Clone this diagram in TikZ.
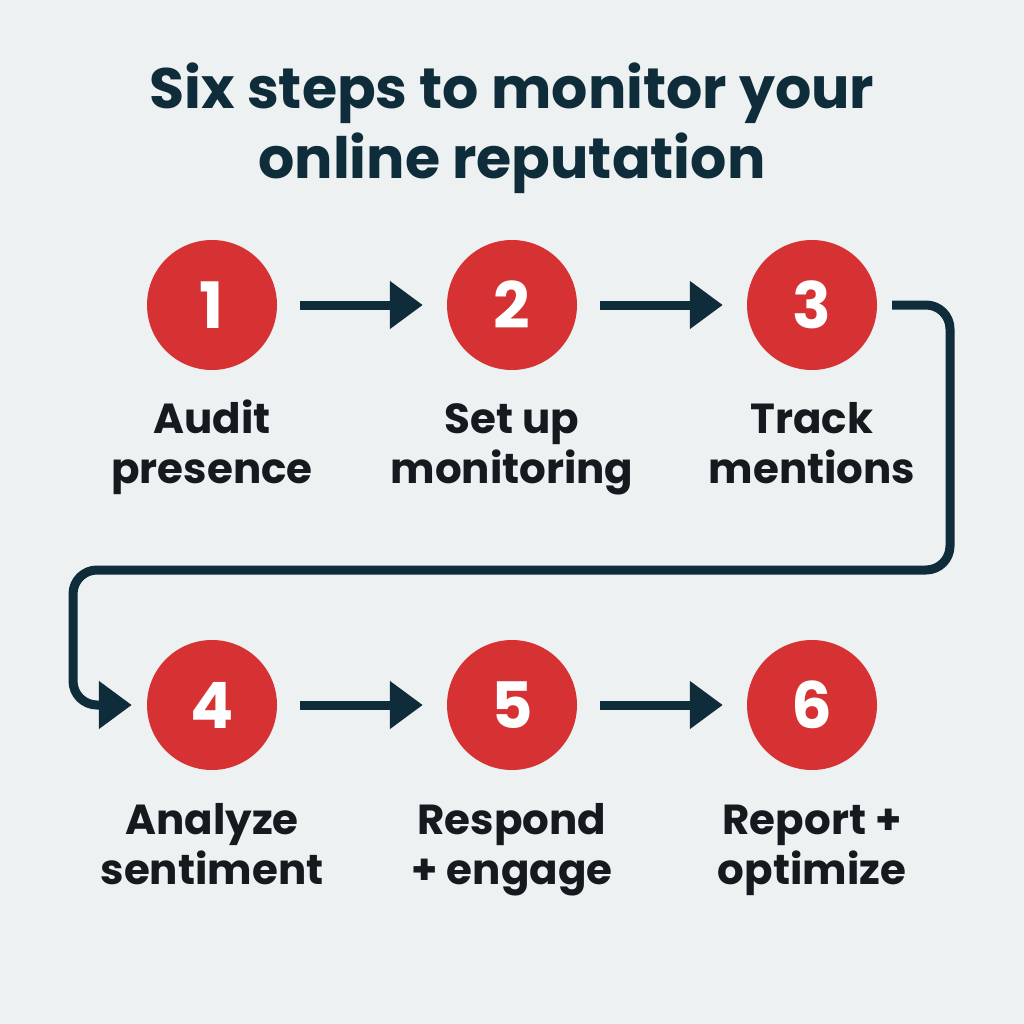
\documentclass[tikz,border=0pt]{standalone}
\usepackage{fontspec}
\setmainfont{Poppins}[BoldFont={* Bold}]
\usepackage{xcolor}
\definecolor{pagebg}{HTML}{EDF1F2}
\definecolor{navy}{HTML}{0E2C3A}
\definecolor{stepred}{HTML}{D63233}
\definecolor{ink}{HTML}{151A1E}
\usepackage{tikz}
\usetikzlibrary{arrows.meta}

\begin{document}
\begin{tikzpicture}[
  x=1pt, y=-1pt,
  stepdot/.style={circle, fill=stepred, draw=none, minimum size=130pt, inner sep=0pt,
                  text=white, font=\bfseries\fontsize{64}{64}\selectfont},
  steplabel/.style={align=center, text=ink, inner sep=0pt, anchor=base,
                    font=\bfseries\fontsize{42}{50}\selectfont},
  flow/.style={-{Triangle[length=33pt, width=46pt]}, navy, line width=9pt},
  loop/.style={flow, rounded corners=24pt}
]
  \fill[pagebg] (0,0) rectangle (1024,1024);
  \useasboundingbox (0,0) rectangle (1024,1024);

  \node[text=navy, align=center, inner sep=0pt, font=\bfseries\fontsize{57}{70}\selectfont]
       (title) at (512,128) {Six steps to monitor your\\online reputation};

  \node[stepdot] (s1) at (212,305) {1};
  \node[stepdot] (s2) at (512,305) {2};
  \node[stepdot] (s3) at (812,305) {3};
  \node[stepdot] (s4) at (212,705) {4};
  \node[stepdot] (s5) at (512,705) {5};
  \node[stepdot] (s6) at (812,705) {6};

  % base = baseline of the second line
  \node[steplabel] (l1) at (212,483) {Audit\\presence};
  \node[steplabel] (l2) at (512,483) {Set up\\monitoring};
  \node[steplabel] (l3) at (812,483) {Track\\mentions};
  \node[steplabel] (l4) at (212,884) {Analyze\\sentiment};
  \node[steplabel] (l5) at (512,884) {Respond\\+ engage};
  \node[steplabel] (l6) at (812,884) {Report +\\optimize};

  \draw[flow, shorten <=23pt, shorten >=24pt] (s1) -- (s2);
  \draw[flow, shorten <=23pt, shorten >=24pt] (s2) -- (s3);
  \draw[flow, shorten <=23pt, shorten >=24pt] (s4) -- (s5);
  \draw[flow, shorten <=23pt, shorten >=24pt] (s5) -- (s6);
  \draw[loop, shorten <=15pt, shorten >=15pt]
       (s3.east) -- (950,305) -- (950,570) -- (73,570) -- (73,705) -- (s4.west);
\end{tikzpicture}
\end{document}
